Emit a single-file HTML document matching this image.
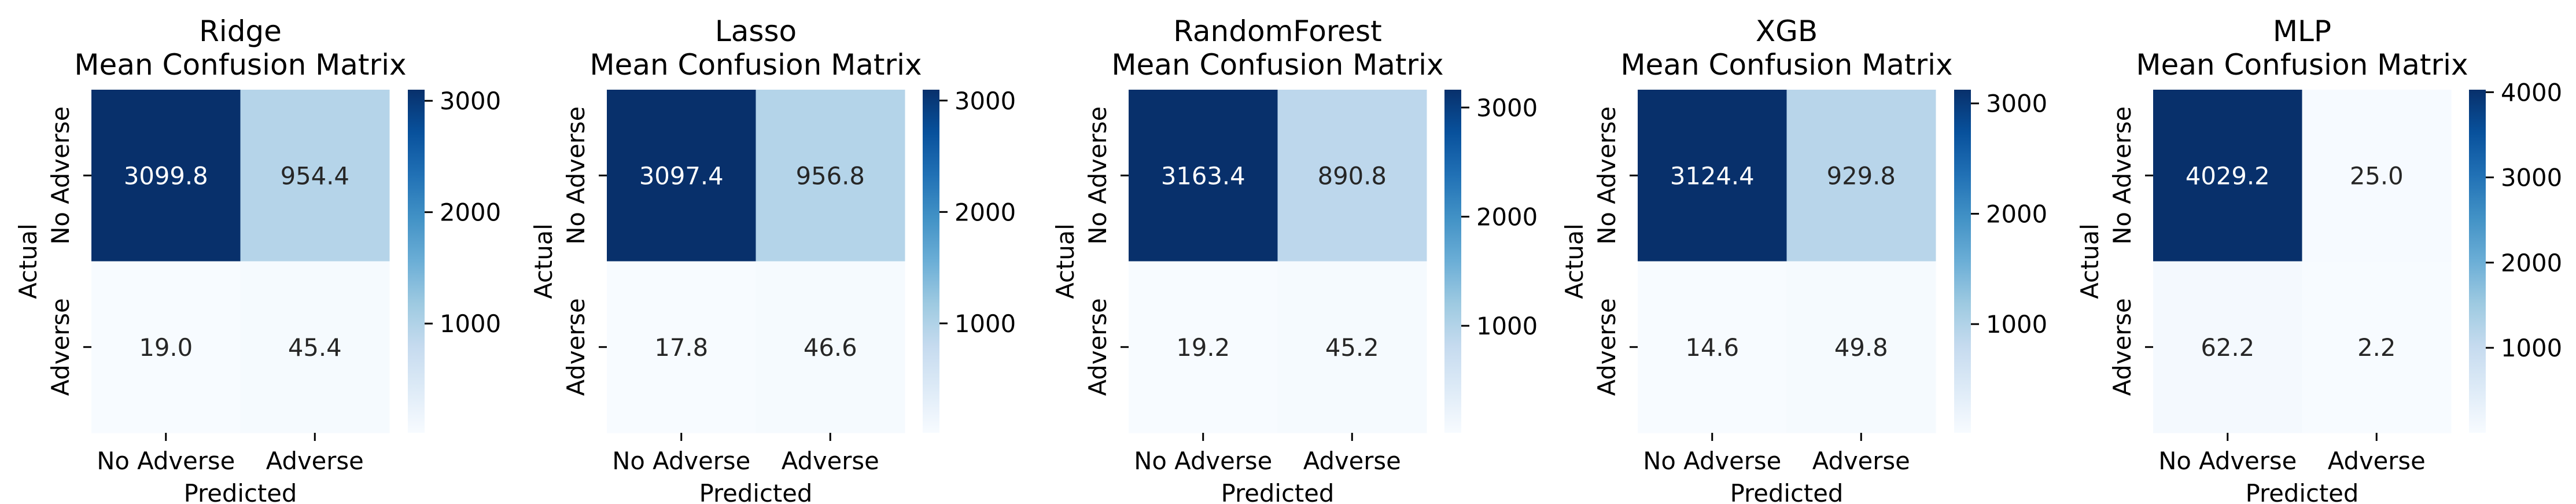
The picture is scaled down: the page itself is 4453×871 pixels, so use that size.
<!DOCTYPE html>
<html><head><meta charset="utf-8"><style>
html,body{margin:0;padding:0;background:#fff;}
svg{display:block;font-family:"DejaVu Sans","Liberation Sans",sans-serif;}
</style></head><body>
<svg id="fig" width="4453" height="871" viewBox="0 0 4453 871" xmlns="http://www.w3.org/2000/svg"></svg>
<script>
const models = ["Ridge","Lasso","RandomForest","XGB","MLP"];
const ridgeVals = [3099.8, 954.4, 19.0, 45.4];
const lassoVals = [3097.4, 956.8, 17.8, 46.6];
const rfVals = [3163.4, 890.8, 19.2, 45.2];
const xgbVals = [3124.4, 929.8, 14.6, 49.8];
const mlpVals = [4029.2, 25.0, 62.2, 2.2];
const classLabels = ["No Adverse","Adverse"];
const cbTicksStd = [1000, 2000, 3000];
const cbTicksMlp = [1000, 2000, 3000, 4000];

const allVals = [ridgeVals, lassoVals, rfVals, xgbVals, mlpVals];
const allTicks = [cbTicksStd, cbTicksStd, cbTicksStd, cbTicksStd, cbTicksMlp];
const heatX = [158, 1049, 1951, 2831, 3722];
const cbX = [705, 1595, 2497, 3378, 4268];
const HW = 515, TOP = 155, BOT = 748, CBW = 29;
const NS = "http://www.w3.org/2000/svg";
const svg = document.getElementById("fig");
const stops = ["#f7fbff","#deebf7","#c6dbef","#9ecae1","#6baed6","#4292c6","#2171b5","#08519c","#08306b"];
function hex(h){return [1,3,5].map(i=>parseInt(h.substr(i,2),16));}
function blues(t){t=Math.max(0,Math.min(1,t));const p=t*8,i=Math.min(7,Math.floor(p)),f=p-i;const a=hex(stops[i]),b=hex(stops[i+1]);const c=a.map((v,k)=>Math.round(v+(b[k]-v)*f));return {s:"rgb("+c.join(",")+")",l:(0.299*c[0]+0.587*c[1]+0.114*c[2])/255};}
function el(tag, attrs, parent){const e=document.createElementNS(NS,tag);for(const k in attrs)e.setAttribute(k,attrs[k]);(parent||svg).appendChild(e);return e;}
function txt(s, attrs, parent){const e=el("text",attrs,parent);e.textContent=s;return e;}

models.forEach((m, mi) => {
  const vals = allVals[mi];
  const vmin = Math.min(...vals), vmax = Math.max(...vals);
  const x0 = heatX[mi];
  const g = el("g", {});
  
  
  const cw = HW/2, ch = (BOT-TOP)/2;
  const xScale = c => x0 + c*cw;
  const yScale = r => TOP + r*ch;
  vals.forEach((v, i) => {
    const r = Math.floor(i/2), c = i%2;
    const col = blues((v-vmin)/(vmax-vmin));
    const rect = el("rect", {x:xScale(c), y:yScale(r), width:cw+0.5, height:ch+0.5, fill:col.s}, g);
    
    
    const t = txt(v.toFixed(1), {x:xScale(c)+cw/2, y:yScale(r)+ch/2+15, "text-anchor":"middle", "font-size":"41.7", fill: col.l < 0.5 ? "#ffffff" : "#262626"}, g);
    
    
  });
  // titles
  const cx = x0 + HW/2;
  const t1 = txt(m, {x:cx, y:71, "text-anchor":"middle", "font-size":"50"}, g);
  
  
  const t2 = txt("Mean Confusion Matrix", {x:cx, y:129, "text-anchor":"middle", "font-size":"50"}, g);
  
  
  // x ticks
  classLabels.forEach((lab, c) => {
    const tx = xScale(c)+cw/2;
    el("line", {x1:tx, x2:tx, y1:BOT, y2:BOT+14, stroke:"#000", "stroke-width":"3"}, g);
    const xl = txt(lab, {x:tx, y:811, "text-anchor":"middle", "font-size":"41.7"}, g);
    
    
    const ty = yScale(c)+ch/2;
    el("line", {x1:x0-14, x2:x0, y1:ty, y2:ty, stroke:"#000", "stroke-width":"3"}, g);
    const yl = txt(lab, {x:0, y:0, "text-anchor":"middle", "font-size":"41.7", transform:"translate("+(x0-39)+","+ty+") rotate(-90)"}, g);
    
    
  });
  const xt = txt("Predicted", {x:cx, y:867, "text-anchor":"middle", "font-size":"41.7"}, g);
  
  
  const yt = txt("Actual", {x:0, y:0, "text-anchor":"middle", "font-size":"41.7", transform:"translate("+(x0-95)+","+((TOP+BOT)/2)+") rotate(-90)"}, g);
  
  
  // colorbar
  const gid = "grad"+mi;
  const defs = el("defs", {}, g);
  const lg = el("linearGradient", {id:gid, x1:"0", y1:"1", x2:"0", y2:"0"}, defs);
  for (let k=0;k<=16;k++){ el("stop", {offset:(k/16), "stop-color":blues(k/16).s}, lg); }
  const cb = el("rect", {x:cbX[mi], y:TOP, width:CBW, height:BOT-TOP, fill:"url(#"+gid+")"}, g);
  
  
  const cbScale = v => BOT - (v-vmin)/(vmax-vmin)*(BOT-TOP);
  allTicks[mi].forEach(tv => {
    const y = cbScale(tv);
    el("line", {x1:cbX[mi]+CBW, x2:cbX[mi]+CBW+14, y1:y, y2:y, stroke:"#000", "stroke-width":"3"}, g);
    const tl = txt(String(tv), {x:cbX[mi]+CBW+26, y:y+15, "font-size":"41.7"}, g);
    
    
  });
});
</script>
</body></html>
